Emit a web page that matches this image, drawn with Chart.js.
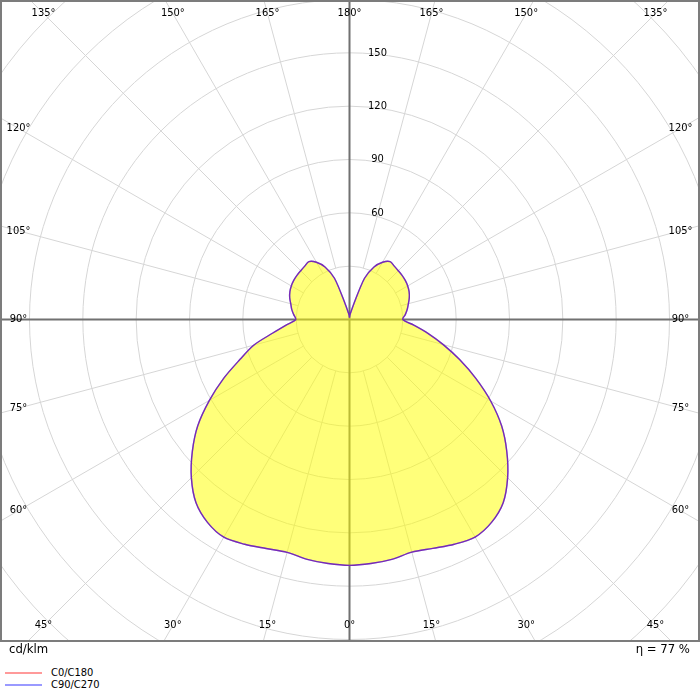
<!DOCTYPE html>
<html>
<head>
<meta charset="utf-8">
<title>Light distribution curve</title>
<script src="https://cdn.jsdelivr.net/npm/chart.js@4.4.1/dist/chart.umd.min.js"></script>
<style>
body { margin: 0; background: #fff; }
#wrap { position: relative; width: 700px; height: 700px; font-family: "DejaVu Sans Condensed", "DejaVu Sans", sans-serif; color: #000; }
#plot { position: absolute; left: 0; top: 0; }
.note { position: absolute; top: 641px; font-size: 13px; line-height: 16px; }
.leg { position: absolute; left: 5px; font-size: 11px; line-height: 12px; white-space: nowrap; }
.leg i { display: inline-block; width: 37px; height: 2px; vertical-align: middle; margin-right: 9px; }
</style>
</head>
<body>
<div id="wrap">
  <canvas id="plot" width="700" height="642"></canvas>
  <span class="note" style="left:9px">cd/klm</span>
  <span class="note" id="eta" style="right:10px"></span>
  <div class="leg" style="top:667px"><i style="background:#ff9a9a"></i>C0/C180</div>
  <div class="leg" style="top:679px"><i style="background:#9a9aff"></i>C90/C270</div>
</div>
<script>
// gamma angle from nadir, degrees
const gamma = [0, 5, 10, 15, 20, 25, 30, 35, 40, 45, 50, 55, 60, 65, 70, 75, 80, 85, 90,
  95, 100, 105, 110, 115, 120, 125, 130, 135, 140, 145, 150, 155, 160, 165, 170, 175, 180];

// intensity in cd/klm per half plane
const c0 = [138.3, 137.8, 137.0, 135.5, 137.0, 139.5, 141.3, 139.3, 134.5, 125.8, 115.5, 104.5, 91.7,
  78.4, 65.9, 54.6, 44.8, 36.3, 30.0, 31.5, 33.0, 34.3, 35.8, 37.0, 37.8, 38.3, 38.6, 38.8, 39.2,
  39.8, 37.2, 32.6, 24.7, 8.5, 4.0, 2.5, 1.0];
const c180 = [138.3, 137.8, 137.0, 135.6, 137.1, 139.5, 141.4, 139.3, 134.4, 125.8, 115.4, 104.2, 91.0,
  78.0, 65.5, 55.8, 43.8, 35.8, 30.2, 31.5, 33.0, 34.2, 35.8, 37.0, 37.8, 38.3, 38.6, 38.8, 39.2,
  39.8, 37.2, 32.6, 24.7, 8.5, 4.0, 2.5, 1.0];
const c90 = [138.3, 137.8, 137.0, 135.5, 137.0, 139.5, 141.3, 139.3, 134.5, 125.8, 115.5, 104.5, 91.7,
  78.4, 65.9, 54.6, 44.8, 36.3, 30.0, 31.5, 33.0, 34.3, 35.8, 37.0, 37.8, 38.3, 38.6, 38.8, 39.2,
  39.8, 37.2, 32.6, 24.7, 8.5, 4.0, 2.5, 1.0];
const c270 = [138.3, 137.8, 137.0, 135.6, 137.1, 139.5, 141.4, 139.3, 134.4, 125.8, 115.4, 104.2, 91.0,
  78.0, 65.5, 55.8, 43.8, 35.8, 30.2, 31.5, 33.0, 34.2, 35.8, 37.0, 37.8, 38.3, 38.6, 38.8, 39.2,
  39.8, 37.2, 32.6, 24.7, 8.5, 4.0, 2.5, 1.0];

const rings = [30, 60, 90, 120, 150, 180, 210, 240, 270, 300];
const ringLabels = [60, 90, 120, 150];
const spokes = [0, 15, 30, 45, 60, 75, 90, 105, 120, 135, 150, 165, 180,
  195, 210, 225, 240, 255, 270, 285, 300, 315, 330, 345];
const efficiency = 77;

document.getElementById('eta').textContent = 'η = ' + efficiency + ' %';

// polar -> cartesian, left half plane first (top to nadir), then right half
function toXY(deg, v) {
  const a = deg * Math.PI / 180;
  return { x: v * Math.sin(a), y: -v * Math.cos(a) };
}
function planePoints(left, right) {
  const pts = [];
  for (let i = gamma.length - 1; i >= 0; i--) pts.push(toXY(-gamma[i], left[i]));
  for (let i = 1; i < gamma.length; i++) pts.push(toXY(gamma[i], right[i]));
  return pts;
}

const FONT = '11px "DejaVu Sans Condensed", "DejaVu Sans", sans-serif';

const polarGrid = {
  id: 'polarGrid',
  beforeDraw(chart) {
    const { ctx, chartArea: area, scales: { x, y } } = chart;
    const cx = x.getPixelForValue(0), cy = y.getPixelForValue(0);
    const unit = x.getPixelForValue(1) - cx;
    ctx.save();
    ctx.beginPath();
    ctx.rect(area.left, area.top, area.right - area.left, area.bottom - area.top);
    ctx.clip();
    ctx.strokeStyle = '#d6d6d6';
    ctx.lineWidth = 1;
    rings.forEach(v => {
      ctx.beginPath();
      ctx.arc(cx, cy, v * unit, 0, 2 * Math.PI);
      ctx.stroke();
    });
    spokes.forEach(a => {
      if (a % 90 === 0) return;
      const r = a * Math.PI / 180, s = Math.sin(r), c = Math.cos(r);
      const r0 = rings[0] * unit;
      ctx.beginPath();
      ctx.moveTo(cx + s * r0, cy + c * r0);
      ctx.lineTo(cx + s * 1000, cy + c * 1000);
      ctx.stroke();
    });
    // main axes
    ctx.strokeStyle = '#717171';
    ctx.lineWidth = 2;
    ctx.beginPath();
    ctx.moveTo(area.left, cy); ctx.lineTo(area.right, cy);
    ctx.moveTo(cx, area.top); ctx.lineTo(cx, area.bottom);
    ctx.stroke();
    ctx.restore();
  },
  afterDatasetsDraw(chart) {
    const { ctx, scales: { x, y } } = chart;
    const cx = x.getPixelForValue(0), cy = y.getPixelForValue(0);
    ctx.save();
    ctx.font = FONT;
    ctx.fillStyle = '#000';
    ctx.textAlign = 'center';
    ctx.textBaseline = 'middle';
    ringLabels.forEach(v => {
      ctx.fillText(String(v), cx + 28, y.getPixelForValue(v));
    });
    // angle labels where the spokes meet an inset of the frame
    const halfW = 331, halfH = 306;
    spokes.forEach(a => {
      const r = a * Math.PI / 180, s = Math.sin(r), c = Math.cos(r);
      const tx = Math.abs(s) > 1e-6 ? halfW / Math.abs(s) : Infinity;
      const ty = Math.abs(c) > 1e-6 ? halfH / Math.abs(c) : Infinity;
      const t = Math.min(tx, ty);
      const txt = (a <= 180 ? a : 360 - a) + '°';
      ctx.fillText(txt, cx + s * t, cy + c * t);
    });
    ctx.restore();
  },
  afterDraw(chart) {
    const { ctx, width, height } = chart;
    ctx.save();
    ctx.strokeStyle = '#7c7c7c';
    ctx.lineWidth = 2;
    ctx.strokeRect(1, 1, width - 2, height - 2);
    ctx.restore();
  }
};

// 320 px per 180 cd/klm, origin at (349.5, 319.5)
const pxPerUnit = 320 / 180;
new Chart(document.getElementById('plot'), {
  type: 'scatter',
  data: {
    datasets: [{
      label: 'C0/C180',
      data: planePoints(c180, c0),
      showLine: true,
      tension: 0.3,
      borderColor: 'rgba(255,50,60,0.3)',
      borderWidth: 1.4,
      pointRadius: 0,
      fill: 'shape',
      backgroundColor: 'rgba(255,255,0,0.52)'
    }, {
      label: 'C90/C270',
      data: planePoints(c270, c90),
      showLine: true,
      tension: 0.3,
      borderColor: 'rgb(60,40,235)',
      borderWidth: 1.4,
      pointRadius: 0,
      fill: false
    }]
  },
  options: {
    responsive: false,
    animation: false,
    events: [],
    layout: { padding: 0 },
    scales: {
      x: { type: 'linear', display: false, min: -349.5 / pxPerUnit, max: 350.5 / pxPerUnit },
      y: { type: 'linear', display: false, min: -322.5 / pxPerUnit, max: 319.5 / pxPerUnit }
    },
    plugins: {
      legend: { display: false },
      tooltip: { enabled: false },
      filler: { drawTime: 'beforeDatasetsDraw' }
    }
  },
  plugins: [polarGrid]
});
</script>
</body>
</html>
